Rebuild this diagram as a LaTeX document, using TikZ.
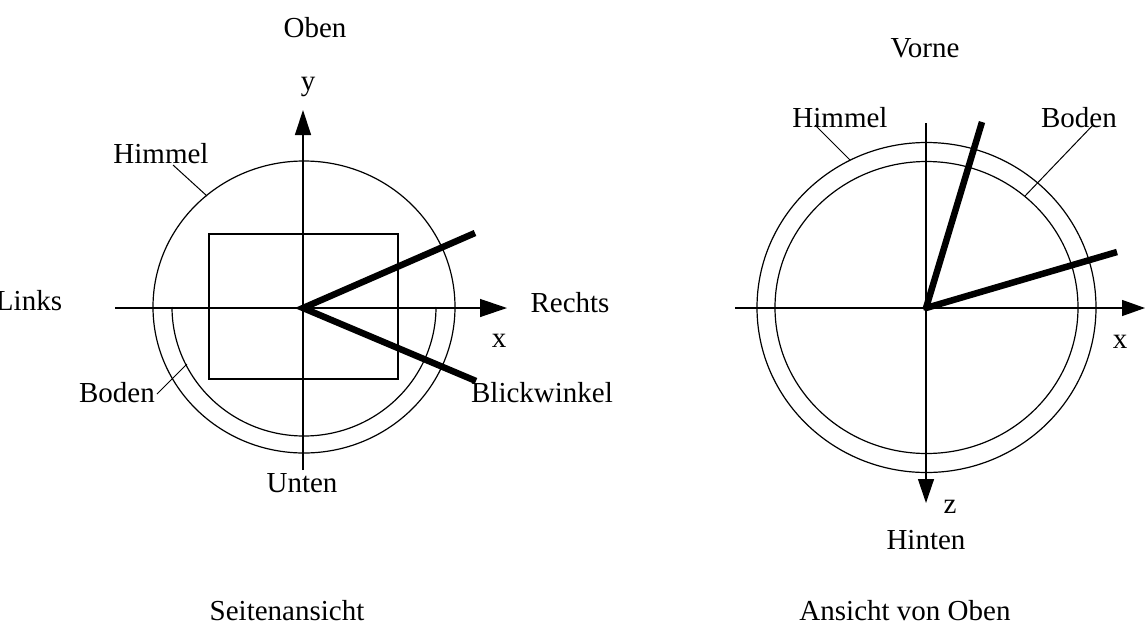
\documentclass[tikz,border=0pt]{standalone}
\usepackage{fontspec}
\setmainfont{Liberation Serif}
\usetikzlibrary{arrows.meta}
\begin{document}
\begin{tikzpicture}[x=1pt,y=-1pt,
  lbl/.style={font=\fontsize{29}{34}\selectfont, inner sep=0pt, anchor=base},
  axline/.style={line width=1.3pt},
  ring/.style={line width=1.2pt},
  lead/.style={line width=1pt},
  viewline/.style={line width=6.5pt},
]
\useasboundingbox (0,0) rectangle (1148,627);
% ---------------- left: Seitenansicht ----------------
\coordinate (O1) at (303,308);
\coordinate (C1) at (304,307);
\draw[ring] (C1) ellipse[x radius=151, y radius=146];
\draw[ring] (172,307) arc[start angle=180, end angle=0, x radius=132, y radius=129];
\draw[axline] (209,234) rectangle (398,379);
\coordinate (xL0) at (115,308);
\coordinate (xL1) at (507,308);
\draw[axline,-{Triangle[length=27pt,width=18pt]}] (xL0) -- (xL1);
\coordinate (yL0) at (303,470);
\coordinate (yL1) at (303,110);
\draw[axline,-{Triangle[length=25pt,width=16pt]}] (yL0) -- (yL1);
\coordinate (bA) at (475,233);
\coordinate (bB) at (476,381);
\draw[viewline] (bA) -- (O1) -- (bB);
\coordinate (hL0) at (173,165);
\coordinate (hL1) at (207,196);
\draw[lead] (hL0) -- (hL1);
\coordinate (dL0) at (157,394);
\coordinate (dL1) at (187,364);
\draw[lead] (dL0) -- (dL1);
\node[lbl] (oben) at (315,37) {Oben};
\node[lbl] (ylab) at (308,90) {y};
\node[lbl] (himL) at (161,163) {Himmel};
\node[lbl] (links) at (29,310) {Links};
\node[lbl] (rechts) at (570,312) {Rechts};
\node[lbl] (xlabL) at (499,347) {x};
\node[lbl] (bodL) at (117,402) {Boden};
\node[lbl] (blick) at (542,402) {Blickwinkel};
\node[lbl] (unten) at (302,492) {Unten};
\node[lbl] (seite) at (287,620) {Seitenansicht};
% ---------------- right: Ansicht von Oben ----------------
\coordinate (O2) at (926,308);
\coordinate (C2) at (926.5,307.5);
\draw[ring] (C2) ellipse[x radius=169.5, y radius=165];
\draw[ring] (C2) ellipse[x radius=151.5, y radius=146];
\coordinate (xR0) at (735,308);
\coordinate (xR1) at (1145,308);
\draw[axline,-{Triangle[length=23pt,width=16pt]}] (xR0) -- (xR1);
\coordinate (zR0) at (926,123);
\coordinate (zR1) at (926,503);
\draw[axline,-{Triangle[length=24pt,width=16pt]}] (zR0) -- (zR1);
\coordinate (vA) at (982,122);
\coordinate (vB) at (1117,252);
\draw[viewline,line join=round] (vA) -- (O2) -- (vB);
\coordinate (hR0) at (815,125);
\coordinate (hR1) at (850,160);
\draw[lead] (hR0) -- (hR1);
\coordinate (dR0) at (1093,125);
\coordinate (dR1) at (1025,196);
\draw[lead] (dR0) -- (dR1);
\node[lbl] (vorne) at (925,57) {Vorne};
\node[lbl] (himR) at (840,127) {Himmel};
\node[lbl] (bodR) at (1079,127) {Boden};
\node[lbl] (xlabR) at (1120,348) {x};
\node[lbl] (zlab) at (950,513) {z};
\node[lbl] (hinten) at (926,549) {Hinten};
\node[lbl] (ansicht) at (905,620) {Ansicht von Oben};
\end{tikzpicture}
\end{document}
